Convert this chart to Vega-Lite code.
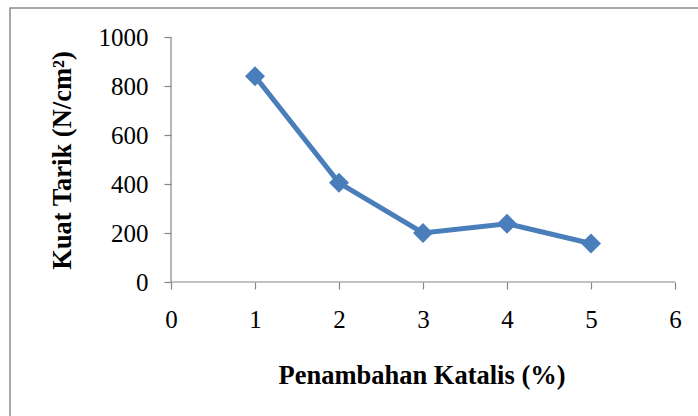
{
  "$schema": "https://vega.github.io/schema/vega-lite/v6.json",
  "autosize": {"type": "none"},
  "padding": {"left": 10, "top": 8, "right": 0, "bottom": 0},
  "width": 689,
  "height": 409,
  "background": "white",
  "config": {
    "view": {"stroke": "#8c8c8c", "strokeWidth": 1.5},
    "font": "Liberation Serif"
  },
  "datasets": {
    "kuat": [
      {"katalis": 1, "kuat": 840},
      {"katalis": 2, "kuat": 405},
      {"katalis": 3, "kuat": 200},
      {"katalis": 4, "kuat": 238},
      {"katalis": 5, "kuat": 157}
    ],
    "sumbu": [
      {"x1": 0, "x2": 6, "y1": 0, "y2": 0},
      {"x1": 0, "x2": 0, "y1": 0, "y2": 1000}
    ]
  },
  "layer": [
    {
      "data": {"name": "sumbu"},
      "mark": {"type": "rule", "color": "#868686", "strokeWidth": 1.2},
      "encoding": {
        "x": {"field": "x1", "type": "quantitative",
          "scale": {"domain": [-1.9167, 6.2857], "nice": false, "zero": false},
          "axis": {
            "values": [0, 1, 2, 3, 4, 5, 6],
            "format": "d",
            "offset": -135,
            "domain": false,
            "grid": false,
            "tickColor": "#868686", "tickSize": 7, "tickWidth": 1.2,
            "labelFontSize": 25, "labelColor": "#000000", "labelPadding": 18,
            "title": "Penambahan Katalis (%)",
            "titleFontSize": 26.5, "titleFontWeight": "bold", "titleColor": "#000000",
            "titleX": 411.5, "titleY": 93, "titleBaseline": "middle", "titleAlign": "center"
          }
        },
        "x2": {"field": "x2"},
        "y": {"field": "y1", "type": "quantitative",
          "scale": {"domain": [-551, 1118.4], "nice": false, "zero": false},
          "axis": {
            "values": [0, 200, 400, 600, 800, 1000],
            "format": "d",
            "offset": -161,
            "domain": false,
            "grid": false,
            "tickColor": "#868686", "tickSize": 7, "tickWidth": 1.2,
            "labelFontSize": 25, "labelColor": "#000000", "labelPadding": 16,
            "title": "Kuat Tarik (N/cm²)",
            "titleFontSize": 26.5, "titleFontWeight": "bold", "titleColor": "#000000",
            "titleX": -109, "titleY": 152, "titleBaseline": "middle", "titleAlign": "center", "titleAngle": -90
          }
        },
        "y2": {"field": "y2"}
      }
    },
    {
      "data": {"name": "kuat"},
      "mark": {"type": "line", "color": "#4a7ebb", "strokeWidth": 5},
      "encoding": {
        "x": {"field": "katalis", "type": "quantitative"},
        "y": {"field": "kuat", "type": "quantitative"}
      }
    },
    {
      "data": {"name": "kuat"},
      "mark": {"type": "point", "shape": "diamond", "filled": true, "color": "#4a7ebb", "size": 400, "opacity": 1},
      "encoding": {
        "x": {"field": "katalis", "type": "quantitative"},
        "y": {"field": "kuat", "type": "quantitative"}
      }
    }
  ]
}
